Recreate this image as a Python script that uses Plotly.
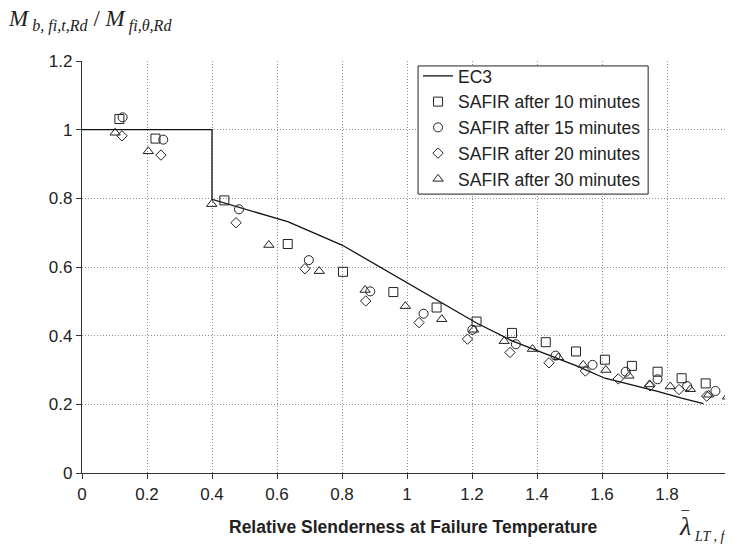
import plotly.graph_objects as go

# EC3 design curve
ec3_x = [0, 0.4, 0.4, 0.633, 0.8, 0.958, 1.091, 1.214, 1.323, 1.427, 1.52, 1.609, 1.692, 1.771, 1.845, 1.912]
ec3_y = [1.0, 1.0, 0.797, 0.732, 0.664, 0.578, 0.506, 0.437, 0.385, 0.347, 0.313, 0.276, 0.257, 0.238, 0.218, 0.202]

# SAFIR after 10 minutes
s10_x = [0.115, 0.226, 0.438, 0.633, 0.803, 0.958, 1.091, 1.214, 1.323, 1.427, 1.520, 1.609, 1.692, 1.771, 1.845, 1.919]
s10_y = [1.031, 0.974, 0.794, 0.667, 0.586, 0.527, 0.482, 0.441, 0.408, 0.381, 0.354, 0.330, 0.312, 0.295, 0.276, 0.261]

# SAFIR after 15 minutes
s15_x = [0.125, 0.250, 0.483, 0.698, 0.887, 1.051, 1.201, 1.335, 1.457, 1.571, 1.673, 1.771, 1.862, 1.949]
s15_y = [1.036, 0.971, 0.768, 0.620, 0.529, 0.464, 0.417, 0.375, 0.342, 0.315, 0.295, 0.273, 0.253, 0.239]

# SAFIR after 20 minutes
s20_x = [0.123, 0.243, 0.474, 0.686, 0.873, 1.037, 1.186, 1.317, 1.437, 1.549, 1.650, 1.748, 1.837, 1.922]
s20_y = [0.982, 0.926, 0.729, 0.595, 0.501, 0.438, 0.390, 0.351, 0.321, 0.297, 0.274, 0.254, 0.243, 0.224]

# SAFIR after 30 minutes
s30_x = [0.102, 0.204, 0.399, 0.575, 0.730, 0.871, 0.995, 1.107, 1.205, 1.299, 1.386, 1.466, 1.542, 1.612,
         1.683, 1.746, 1.810, 1.872, 1.928, 1.986]
s30_y = [0.991, 0.937, 0.783, 0.664, 0.588, 0.533, 0.486, 0.448, 0.417, 0.384, 0.361, 0.337, 0.315, 0.300,
         0.283, 0.258, 0.252, 0.244, 0.228, 0.222]

x_ticks = [0, 0.2, 0.4, 0.6, 0.8, 1, 1.2, 1.4, 1.6, 1.8, 2]
y_ticks = [0, 0.2, 0.4, 0.6, 0.8, 1, 1.2]

FONT = "Liberation Sans, Arial, sans-serif"
SERIF = "Liberation Serif, Times New Roman, serif"
INK = "#222222"

fig = go.Figure()
fig.add_trace(go.Scatter(x=ec3_x, y=ec3_y, mode="lines", name="EC3",
                         line=dict(color="#111111", width=1.3)))

def marker_trace(xs, ys, name, symbol, size):
    return go.Scatter(x=xs, y=ys, mode="markers", name=name,
                      marker=dict(symbol=symbol, size=size, color="#222222",
                                  line=dict(color="#222222", width=1)))

fig.add_trace(marker_trace(s10_x, s10_y, "SAFIR after 10 minutes", "square-open", 9))
fig.add_trace(marker_trace(s15_x, s15_y, "SAFIR after 15 minutes", "circle-open", 9))
fig.add_trace(marker_trace(s20_x, s20_y, "SAFIR after 20 minutes", "diamond-open", 8))
fig.add_trace(marker_trace(s30_x, s30_y, "SAFIR after 30 minutes", "triangle-up-open", 9))

axis_common = dict(
    showgrid=True, gridcolor="#8f8f8f", griddash="1px,2px", gridwidth=1,
    showline=True, linecolor="#333333", linewidth=1.2,
    ticks="outside", ticklen=5, tickcolor="#333333", tickwidth=1,
    zeroline=False, automargin=False, ticklabeloverflow="allow",
    tickfont=dict(family=FONT, size=17, color=INK),
)

# page body adds an 8px offset, so the figure is 725x540 with margins compensating
fig.update_layout(
    width=725, height=540,
    margin=dict(l=74, r=1, t=53, b=75, autoexpand=False),
    paper_bgcolor="white", plot_bgcolor="white",
    showlegend=True,
    legend=dict(x=0.517, y=1.0073, xanchor="left", yanchor="top",
                bgcolor="rgba(0,0,0,0)", borderwidth=0,
                font=dict(family=FONT, size=17.5, color=INK),
                tracegroupgap=0, itemwidth=30),
    xaxis=dict(range=[0, 2], tickvals=x_ticks, ticktext=[f"{v:g}" for v in x_ticks], **axis_common),
    yaxis=dict(range=[0, 1.2], tickvals=y_ticks, ticktext=[f"{v:g}" for v in y_ticks], **axis_common),
)

# legend frame
fig.add_shape(type="rect", xref="paper", yref="paper", layer="above",
              x0=0.517, x1=0.871, y0=0.677, y1=0.988,
              line=dict(color="#222222", width=1), fillcolor="white")

fig.add_annotation(text="<b>Relative Slenderness at Failure Temperature</b>",
                   xref="paper", yref="paper", x=0.51, y=-0.131,
                   xanchor="center", yanchor="middle", showarrow=False,
                   font=dict(family=FONT, size=17.5, color=INK))

# lambda-bar with subscript LT,fi
fig.add_annotation(text="<i>λ</i>",
                   xref="paper", yref="paper", x=0.928, y=-0.131,
                   xanchor="center", yanchor="middle", showarrow=False,
                   font=dict(family=SERIF, size=26, color=INK))
fig.add_annotation(text="<i>LT , fi</i>",
                   xref="paper", yref="paper", x=0.9385, y=-0.155,
                   xanchor="left", yanchor="middle", showarrow=False,
                   font=dict(family=SERIF, size=14, color=INK))
fig.add_annotation(text="\u203e",
                   xref="paper", yref="paper", x=0.929, y=-0.114,
                   xanchor="center", yanchor="middle", showarrow=False,
                   font=dict(family=SERIF, size=20, color=INK))

fig.add_annotation(text="<i>M</i><sub><i> b, fi,t,Rd</i></sub> / <i>M</i><sub><i> fi,θ,Rd</i></sub>",
                   xref="paper", yref="paper", x=-0.117, y=1.098,
                   xanchor="left", yanchor="middle", showarrow=False,
                   font=dict(family=SERIF, size=23, color=INK))

fig.write_html("out.html")
